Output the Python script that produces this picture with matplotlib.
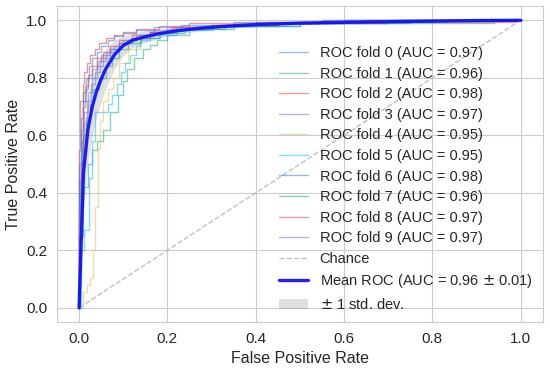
import numpy as np
import matplotlib
matplotlib.use("Agg")
import matplotlib.pyplot as plt
import seaborn as sns

# per-fold ROC corners: at fpr xs[i] the curve sits at tpr ys[i]
FOLD_FPR = [
    [0, 0, 0.005, 0.01, 0.015, 0.02, 0.03, 0.04, 0.05, 0.07, 0.09, 0.12, 0.16, 0.22, 0.30, 0.45, 0.65, 1.0],
    [0, 0, 0.01, 0.02, 0.03, 0.04, 0.055, 0.07, 0.088, 0.1, 0.108, 0.125, 0.145, 0.16, 0.176, 0.2, 0.25, 0.35, 0.5, 0.94, 1.0],
    [0, 0, 0.003, 0.008, 0.012, 0.018, 0.025, 0.035, 0.045, 0.06, 0.08, 0.1, 0.13, 0.18, 0.25, 0.4, 0.99, 1.0],
    [0, 0, 0.006, 0.012, 0.02, 0.03, 0.04, 0.055, 0.07, 0.09, 0.12, 0.16, 0.2, 0.28, 0.4, 0.6, 1.0],
    [0, 0.008, 0.017, 0.025, 0.032, 0.036, 0.042, 0.047, 0.055, 0.065, 0.077, 0.09, 0.11, 0.138, 0.17, 0.22, 0.3, 0.45, 0.7, 1.0],
    [0, 0.005, 0.012, 0.023, 0.03, 0.036, 0.065, 0.075, 0.085, 0.095, 0.105, 0.115, 0.128, 0.138, 0.16, 0.183, 0.22, 0.3, 0.45, 0.7, 1.0],
    [0, 0, 0.004, 0.01, 0.015, 0.022, 0.03, 0.04, 0.05, 0.065, 0.08, 0.1, 0.13, 0.17, 0.23, 0.35, 0.55, 1.0],
    [0, 0.002, 0.006, 0.01, 0.016, 0.024, 0.032, 0.045, 0.06, 0.075, 0.09, 0.11, 0.14, 0.18, 0.24, 0.33, 0.5, 0.75, 1.0],
    [0, 0, 0.004, 0.008, 0.014, 0.02, 0.03, 0.04, 0.055, 0.07, 0.09, 0.12, 0.16, 0.21, 0.3, 0.45, 0.7, 1.0],
    [0, 0, 0.005, 0.01, 0.018, 0.026, 0.036, 0.048, 0.062, 0.08, 0.1, 0.13, 0.17, 0.22, 0.3, 0.42, 0.6, 1.0],
]
FOLD_TPR = [
    [0, 0.45, 0.62, 0.72, 0.76, 0.80, 0.83, 0.86, 0.88, 0.90, 0.92, 0.94, 0.96, 0.97, 0.98, 0.99, 1.0, 1.0],
    [0, 0.25, 0.42, 0.50, 0.55, 0.58, 0.62, 0.68, 0.74, 0.79, 0.83, 0.87, 0.90, 0.915, 0.93, 0.95, 0.97, 0.98, 0.99, 1.0, 1.0],
    [0, 0.55, 0.72, 0.78, 0.82, 0.85, 0.88, 0.90, 0.92, 0.94, 0.95, 0.96, 0.97, 0.98, 0.99, 0.995, 1.0, 1.0],
    [0, 0.40, 0.58, 0.68, 0.75, 0.80, 0.84, 0.87, 0.90, 0.92, 0.94, 0.96, 0.97, 0.98, 0.99, 1.0, 1.0],
    [0, 0.055, 0.08, 0.105, 0.20, 0.35, 0.555, 0.65, 0.72, 0.76, 0.80, 0.85, 0.90, 0.945, 0.96, 0.97, 0.98, 0.99, 1.0, 1.0],
    [0, 0.20, 0.27, 0.45, 0.58, 0.68, 0.71, 0.74, 0.78, 0.82, 0.85, 0.88, 0.91, 0.93, 0.94, 0.95, 0.965, 0.98, 0.99, 1.0, 1.0],
    [0, 0.50, 0.66, 0.75, 0.80, 0.84, 0.87, 0.89, 0.91, 0.93, 0.945, 0.955, 0.965, 0.975, 0.985, 0.995, 1.0, 1.0],
    [0, 0.44, 0.55, 0.60, 0.66, 0.71, 0.76, 0.80, 0.84, 0.87, 0.90, 0.92, 0.94, 0.955, 0.97, 0.98, 0.99, 1.0, 1.0],
    [0, 0.30, 0.50, 0.70, 0.77, 0.81, 0.84, 0.87, 0.89, 0.91, 0.93, 0.95, 0.96, 0.975, 0.985, 0.99, 1.0, 1.0],
    [0, 0.35, 0.52, 0.64, 0.72, 0.78, 0.82, 0.86, 0.89, 0.91, 0.93, 0.95, 0.965, 0.975, 0.985, 0.99, 1.0, 1.0],
]
FOLD_AUC = [0.97, 0.96, 0.98, 0.97, 0.95, 0.95, 0.98, 0.96, 0.97, 0.97]

MEAN_FPR = [0, 0.01, 0.02, 0.03, 0.04, 0.05, 0.06, 0.08, 0.10, 0.12, 0.15, 0.18, 0.22, 0.27,
            0.33, 0.40, 0.50, 0.60, 0.70, 0.80, 0.90, 1.0]
MEAN_TPR = [0, 0.47, 0.62, 0.70, 0.755, 0.795, 0.83, 0.88, 0.912, 0.93, 0.943, 0.953, 0.963, 0.972,
            0.979, 0.985, 0.99, 0.993, 0.995, 0.997, 0.999, 1.0]
STD_TPR = [0, 0.13, 0.11, 0.10, 0.09, 0.08, 0.07, 0.05, 0.035, 0.025, 0.02, 0.015, 0.012, 0.01,
           0.008, 0.006, 0.005, 0.004, 0.003, 0.002, 0.001, 0]
MEAN_AUC, STD_AUC = 0.96, 0.01

sns.set_style("whitegrid")
plt.rcParams["font.family"] = ["Liberation Sans", "DejaVu Sans"]

COLORS = ["#3f7fd6", "#22b07a", "#e64545", "#7d78d4", "#e2bd62", "#22c2ea"]

fig = plt.figure(figsize=(5.5, 3.69), dpi=100)
ax = fig.add_axes([0.1036, 0.127, 0.8834, 0.857])

for i in range(10):
    ax.plot(FOLD_FPR[i], FOLD_TPR[i], drawstyle="steps-post", lw=1, alpha=0.55,
            color=COLORS[i % 6], label=f"ROC fold {i} (AUC = {FOLD_AUC[i]:.2f})")

ax.plot([0, 1], [0, 1], ls="--", lw=1, color="#b0b0b0", alpha=0.8, label="Chance")

mean_tpr = np.array(MEAN_TPR)
std_tpr = np.array(STD_TPR)
ax.plot(MEAN_FPR, mean_tpr, color="#0a0aff", lw=2.4, alpha=0.9,
        label=f"Mean ROC (AUC = {MEAN_AUC:.2f} $\\pm$ {STD_AUC:.2f})")
ax.fill_between(MEAN_FPR, np.maximum(mean_tpr - std_tpr, 0), np.minimum(mean_tpr + std_tpr, 1),
                color="grey", alpha=0.25, lw=0, label=r"$\pm$ 1 std. dev.")

ax.set_xlim(-0.05, 1.05)
ax.set_ylim(-0.05, 1.05)
ax.set_xticks(np.arange(0, 1.01, 0.2))
ax.set_yticks(np.arange(0, 1.01, 0.2))
ax.tick_params(labelsize=11, colors="#262626")
ax.set_xlabel("False Positive Rate", fontsize=11.5, color="#262626")
ax.set_ylabel("True Positive Rate", fontsize=11.5, color="#262626")
ax.legend(loc="lower right", fontsize=10.5, frameon=False, labelspacing=0.45,
          handlelength=2.0, borderaxespad=0.3)

fig.savefig("out.png", dpi=100)
